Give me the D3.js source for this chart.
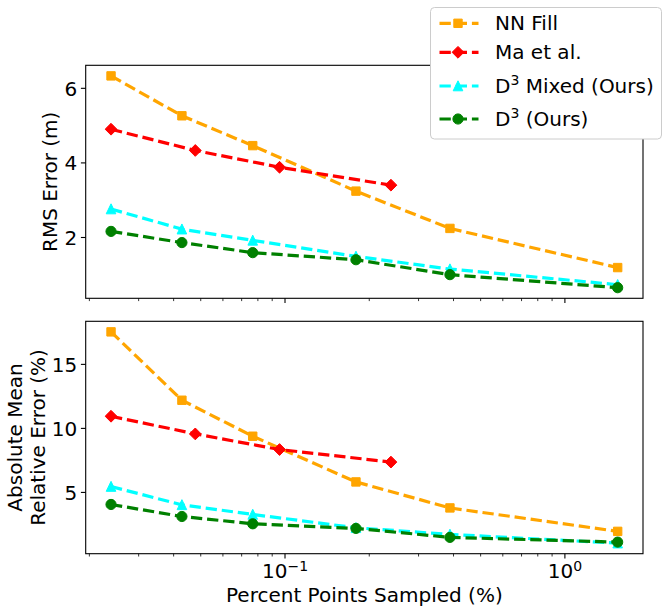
<!DOCTYPE html>
<html>
<head>
<meta charset="utf-8">
<script src="https://cdn.jsdelivr.net/npm/d3@7"></script>
<style>
  body { margin: 0; background: #fff; }
  svg text { font-family: "DejaVu Sans", sans-serif; fill: #000; }
</style>
</head>
<body>
<svg id="chart" width="669" height="613"></svg>
<script>
// sample fractions (% of points)
var xSampled = [0.024, 0.043, 0.077, 0.18, 0.39, 1.55];
var xMa = [0.024, 0.048, 0.096, 0.24];

// RMS error (m)
var rmsNN = [6.32, 5.25, 4.45, 3.23, 2.23, 1.18];
var rmsMa = [4.89, 4.32, 3.87, 3.39];
var rmsMixed = [2.75, 2.21, 1.91, 1.48, 1.14, 0.72];
var rmsD3 = [2.15, 1.85, 1.58, 1.39, 0.99, 0.64];

// absolute mean relative error (%)
var amreNN = [17.5, 12.16, 9.35, 5.78, 3.75, 1.92];
var amreMa = [10.91, 9.53, 8.31, 7.33];
var amreMixed = [5.42, 3.99, 3.24, 2.2, 1.68, 1.0];
var amreD3 = [4.02, 3.08, 2.51, 2.15, 1.45, 1.08];

var rmsTicks = [2, 4, 6];
var amreTicks = [5, 10, 15];
var xMajor = [0.1, 1];
var xMajorExp = ["\u22121", "0"];
var xMinor = [0.02, 0.03, 0.04, 0.05, 0.06, 0.07, 0.08, 0.09,
              0.2, 0.3, 0.4, 0.5, 0.6, 0.7, 0.8, 0.9];

var series = [
  { name: "NN Fill", sup: null, color: "orange", marker: "square" },
  { name: "Ma et al.", sup: null, color: "red", marker: "diamond" },
  { name: " Mixed (Ours)", sup: "3", color: "cyan", marker: "triangle" },
  { name: " (Ours)", sup: "3", color: "green", marker: "circle" }
];

var left = 85.7, right = 643;
var panels = [
  { top: 65.3, bottom: 298.3, ys: [rmsNN, rmsMa, rmsMixed, rmsD3], ticks: rmsTicks, xlabels: false },
  { top: 321.3, bottom: 553.7, ys: [amreNN, amreMa, amreMixed, amreD3], ticks: amreTicks, xlabels: true }
];

var svg = d3.select("#chart");

// matplotlib style 5% margins
function padLinear(vals) {
  var lo = d3.min(vals), hi = d3.max(vals), p = (hi - lo) * 0.05;
  return [lo - p, hi + p];
}
function padLog(vals) {
  var lo = Math.log10(d3.min(vals)), hi = Math.log10(d3.max(vals)), p = (hi - lo) * 0.05;
  return [Math.pow(10, lo - p), Math.pow(10, hi + p)];
}

var x = d3.scaleLog()
  .domain(padLog(xSampled.concat(xMa)))
  .range([left, right]);

function markerPath(type) {
  if (type == "square") {
    var s = 4.2;
    return "M" + -s + "," + -s + "H" + s + "V" + s + "H" + -s + "Z";
  } else if (type == "diamond") {
    var d = 5.9;
    return "M0," + -d + "L" + d + ",0L0," + d + "L" + -d + ",0Z";
  } else if (type == "triangle") {
    return "M0,-5.2L4.8,4.8L-4.8,4.8Z";
  }
  return d3.symbol().type(d3.symbolCircle).size(Math.PI * 5.1 * 5.1)();
}

panels.forEach(function(p) {
  var allY = [].concat.apply([], p.ys);
  var y = d3.scaleLinear().domain(padLinear(allY)).range([p.bottom, p.top]);
  var g = svg.append("g");

  // minor x ticks
  g.append("g")
    .attr("transform", "translate(0," + p.bottom + ")")
    .call(d3.axisBottom(x).tickValues(xMinor).tickSize(2.8).tickFormat(""))
    .call(function(a) {
      a.select(".domain").remove();
      a.selectAll("line").attr("stroke", "#000").attr("stroke-width", 0.8);
    });

  // major x ticks
  var xa = g.append("g")
    .attr("transform", "translate(0," + p.bottom + ")")
    .call(d3.axisBottom(x).tickValues(xMajor).tickSize(4.8).tickPadding(4).tickFormat(""))
    .call(function(a) {
      a.select(".domain").remove();
      a.selectAll("line").attr("stroke", "#000").attr("stroke-width", 1.1);
    });
  if (p.xlabels) {
    xa.selectAll(".tick text").each(function(d, i) {
      var t = d3.select(this)
        .attr("font-size", 20).attr("font-family", "DejaVu Sans")
        .attr("fill", "#000")
        .attr("dy", null).attr("y", 24.6);
      t.append("tspan").text("10");
      t.append("tspan").attr("font-size", 14).attr("dy", -7).text(xMajorExp[i]);
    });
  }

  // y ticks
  g.append("g")
    .attr("transform", "translate(" + left + ",0)")
    .call(d3.axisLeft(y).tickValues(p.ticks).tickSize(4.8).tickPadding(3.6).tickFormat(d3.format("d")))
    .call(function(a) {
      a.select(".domain").remove();
      a.selectAll("line").attr("stroke", "#000").attr("stroke-width", 1.1);
      a.selectAll("text").attr("font-size", 20).attr("font-family", "DejaVu Sans")
        .attr("fill", "#000").attr("dy", "0.36em");
    });

  // series, drawn in order so later ones sit on top
  series.forEach(function(s, k) {
    var xs = (k == 1) ? xMa : xSampled;
    var pts = xs.map(function(v, i) { return [v, p.ys[k][i]]; });
    var sg = g.append("g");
    sg.append("path")
      .datum(pts)
      .attr("fill", "none")
      .attr("stroke", s.color)
      .attr("stroke-width", 3.2)
      .attr("stroke-dasharray", "11.3,4.9")
      .attr("d", d3.line().x(function(d) { return x(d[0]); }).y(function(d) { return y(d[1]); }));
    sg.selectAll("path.mk")
      .data(pts)
      .enter().append("path")
      .attr("class", "mk")
      .attr("d", markerPath(s.marker))
      .attr("fill", s.color)
      .attr("stroke", s.color)
      .attr("stroke-width", 1)
      .attr("transform", function(d) { return "translate(" + x(d[0]) + "," + y(d[1]) + ")"; });
  });

  // frame
  g.append("rect")
    .attr("x", left).attr("y", p.top)
    .attr("width", right - left).attr("height", p.bottom - p.top)
    .attr("fill", "none").attr("stroke", "#000").attr("stroke-width", 1.1);
});

// axis labels
svg.append("text")
  .attr("transform", "translate(57," + (65.3 + 298.3) / 2 + ") rotate(-90)")
  .attr("text-anchor", "middle").attr("font-size", 20)
  .text("RMS Error (m)");

var lab2 = svg.append("text")
  .attr("transform", "translate(22," + (321.3 + 553.7) / 2 + ") rotate(-90)")
  .attr("text-anchor", "middle").attr("font-size", 20);
lab2.append("tspan").attr("x", 0).attr("y", 0).text("Absolute Mean");
lab2.append("tspan").attr("x", 0).attr("y", 22.5).text("Relative Error (%)");

svg.append("text")
  .attr("x", (left + right) / 2).attr("y", 601.5)
  .attr("text-anchor", "middle").attr("font-size", 20)
  .text("Percent Points Sampled (%)");

// legend
var legend = svg.append("g");
legend.append("rect")
  .attr("x", 430.5).attr("y", 7.5).attr("width", 231).attr("height", 131.5)
  .attr("rx", 4).attr("ry", 4)
  .attr("fill", "#fff").attr("stroke", "#cccccc").attr("stroke-width", 1);

var rowY = [23.3, 52.3, 86, 119];
series.forEach(function(s, k) {
  var row = legend.append("g").attr("transform", "translate(0," + rowY[k] + ")");
  row.append("line")
    .attr("x1", 438).attr("x2", 478.5).attr("y1", 0).attr("y2", 0)
    .attr("stroke", s.color).attr("stroke-width", 3.2)
    .attr("stroke-dasharray", "11.3,4.9").attr("stroke-dashoffset", -1.5);
  row.append("path")
    .attr("d", markerPath(s.marker))
    .attr("fill", s.color).attr("stroke", s.color).attr("stroke-width", 1)
    .attr("transform", "translate(458,0)");
  var t = row.append("text").attr("x", 495).attr("y", 6.8).attr("font-size", 20);
  if (s.sup) {
    t.append("tspan").text("D");
    t.append("tspan").attr("font-size", 14).attr("dy", -8).text(s.sup);
    t.append("tspan").attr("dy", 8).text(s.name);
  } else {
    t.text(s.name);
  }
});
</script>
</body>
</html>
